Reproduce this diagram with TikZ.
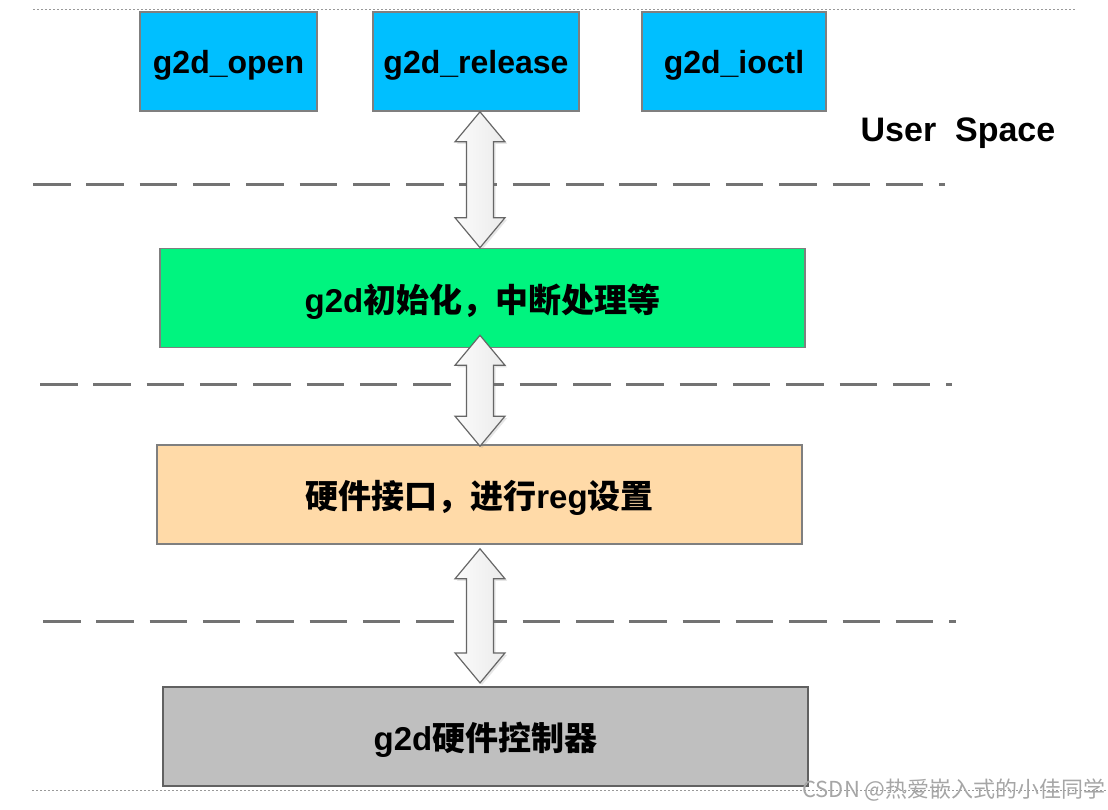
\documentclass[tikz,border=0pt]{standalone}
\usepackage{fontspec}
\setmainfont{Liberation Sans}
\newfontfamily\cjk{Noto Sans CJK SC}
\usepackage{xcolor}
\usetikzlibrary{calc,shadows}

\definecolor{userblue}{HTML}{00BFFF}
\definecolor{drvgreen}{HTML}{00F47F}
\definecolor{hwpeach}{HTML}{FFDAA8}
\definecolor{ctrlgray}{HTML}{BFBFBF}
\definecolor{edgegray}{HTML}{7F7F7F}

\tikzset{
  box/.style={draw=edgegray, line width=1.6pt, inner sep=0pt, text depth=0pt, font=\fontsize{32}{36}\selectfont\bfseries},
  apibox/.style={box, fill=userblue, minimum height=99pt},
  layerbox/.style={box, minimum width=645pt, minimum height=99pt, font=\fontsize{33}{36}\selectfont\bfseries},
  layerline/.style={draw=black!55, line width=3pt, dash pattern=on 37.5pt off 15.8pt},
  pageline/.style={draw=black!40, line width=0.8pt, dash pattern=on 2pt off 2pt},
  twoway/.style={draw=black!60, line width=1.2pt, left color=gray!3, right color=gray!16,
    drop shadow={opacity=0.2, shadow xshift=2pt, shadow yshift=-2pt}},
}
\newcommand{\zh}[1]{{\cjk\bfseries #1}}
\newcommand{\twoway}[2]{%
  \path[twoway] let \p1=(#1), \p2=(#2) in
    (\x1,\y1) -- (\x1+25,\y1-30) -- (\x1+13.5,\y1-30) -- (\x1+13.5,\y2+30)
    -- (\x1+25,\y2+30) -- (\x1,\y2) -- (\x1-25,\y2+30) -- (\x1-13.5,\y2+30)
    -- (\x1-13.5,\y1-30) -- (\x1-25,\y1-30) -- cycle;}

\begin{document}
\begin{tikzpicture}[x=1pt,y=-1pt]
\useasboundingbox (0,0) rectangle (1108,810);

\draw[pageline] (33,9) -- (1075,9);
\draw[pageline] (32,790) -- (1108,790);

\node[apibox, minimum width=177pt] (open) at (228.5,61.5) {g2d\_open};
\node[apibox, minimum width=206pt] (release) at (476,61.5) {g2d\_release};
\node[apibox, minimum width=184pt] (ioctl) at (734,61.5) {g2d\_ioctl};
\node[font=\fontsize{34}{38}\selectfont\bfseries] (user) at (958,133) {User\ \ Space};

\draw[layerline] (33,185) -- (945,185);
\draw[layerline] (40,384) -- (952,384);
\draw[layerline] (43,621) -- (956,621);

\node[layerbox, fill=drvgreen] (init) at (482.5,298) {g2d\zh{初始化，中断处理等}};
\node[layerbox, fill=hwpeach] (hw) at (479.5,494.5) {\zh{硬件接口，进行}reg\zh{设置}};
\node[layerbox, fill=ctrlgray, draw=black!62, line width=2.2pt] (ctrl) at (485.5,736.5) {g2d\zh{硬件控制器}};

\coordinate (axis) at (480,0);
\twoway{release.south -| axis}{init.north -| axis}
\twoway{$(init.south -| axis)+(0,-13)$}{$(hw.north -| axis)+(0,2)$}
\twoway{$(hw.south -| axis)+(0,4)$}{$(ctrl.north -| axis)+(0,-3)$}

\node[text=black!35, font=\cjk\fontsize{22}{24}\selectfont] (mark) at (954,790) {CSDN @热爱嵌入式的小佳同学};

\end{tikzpicture}
\end{document}
